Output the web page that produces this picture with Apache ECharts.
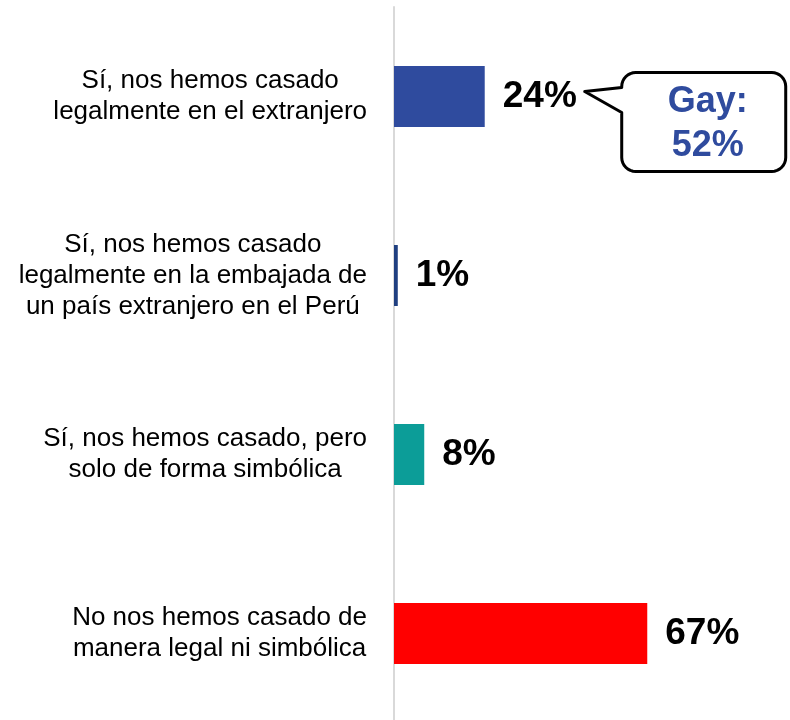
<!DOCTYPE html>
<html>
<head>
<meta charset="utf-8">
<style>
  html, body { margin: 0; padding: 0; background: #ffffff; }
  #chart { width: 790px; height: 720px; }
</style>
<script src="https://cdn.jsdelivr.net/npm/echarts@6/dist/echarts.min.js"></script>
</head>
<body>
<div id="chart"></div>
<script>
// Answer options (top to bottom)
const categories = [
  'Sí, nos hemos casado\nlegalmente en el extranjero',
  'Sí, nos hemos casado\nlegalmente en la embajada de\nun país extranjero en el Perú',
  'Sí, nos hemos casado, pero\nsolo de forma simbólica',
  'No nos hemos casado de\nmanera legal ni simbólica'
];
// Share of respondents, in percent
const values = [24, 1, 8, 67];
const barColors = ['#2F4B9E', '#1F3F80', '#0C9D98', '#FF0000'];

// Callout for the first option
const calloutGroup = 'Gay';
const calloutValue = 52;

const FONT = '"Liberation Sans", Arial, Helvetica, sans-serif';

const chart = echarts.init(document.getElementById('chart'), null, { renderer: 'canvas' });

chart.setOption({
  animation: false,
  backgroundColor: '#ffffff',
  grid: {
    left: 394,
    width: 378,
    top: 7,
    height: 716,
    containLabel: false,
    outerBoundsMode: 'none'
  },
  xAxis: {
    type: 'value',
    min: 0,
    max: 100,
    show: false
  },
  yAxis: {
    type: 'category',
    data: categories,
    inverse: true,
    axisLine: { show: true, lineStyle: { color: '#D9D9D9', width: 2 } },
    axisTick: { show: false },
    splitLine: { show: false },
    axisLabel: {
      margin: 27,
      formatter: function (v) {
        return v.split('\n').map(function (l) { return '{c|' + l + '}'; }).join('\n');
      },
      rich: {
        c: {
          align: 'center',
          fontFamily: FONT,
          fontSize: 26,
          lineHeight: 31,
          color: '#000000'
        }
      }
    }
  },
  series: [{
    type: 'bar',
    data: values.map(function (v, i) {
      return { value: v, itemStyle: { color: barColors[i] } };
    }),
    barWidth: 61,
    label: {
      show: true,
      position: 'right',
      distance: 18,
      formatter: '{c}%',
      fontFamily: FONT,
      fontWeight: 'bold',
      fontSize: 37,
      color: '#000000'
    }
  }]
});

// Speech-bubble callout pointing at the first bar's label
const anchor = chart.convertToPixel({ gridIndex: 0 }, [values[0], 0]);
const tipX = anchor[0] + 100;
const tipY = anchor[1] - 5;
const bx0 = tipX + 37, bx1 = bx0 + 164;
const by0 = tipY - 19, by1 = by0 + 99;
const r = 14;
const jA = tipY - 4, jB = tipY + 21;

// rounded-corner outline as a point list
function corner(cx, cy, a0, a1) {
  const pts = [];
  const n = 8;
  for (let i = 0; i <= n; i++) {
    const a = a0 + (a1 - a0) * i / n;
    pts.push([cx + r * Math.cos(a), cy + r * Math.sin(a)]);
  }
  return pts;
}
const PI = Math.PI;
const outline = [].concat(
  [[bx0, jA], [tipX, tipY], [bx0, jB]],
  corner(bx0 + r, by1 - r, PI, PI / 2),          // bottom-left
  corner(bx1 - r, by1 - r, PI / 2, 0),           // bottom-right
  corner(bx1 - r, by0 + r, 0, -PI / 2),          // top-right
  corner(bx0 + r, by0 + r, -PI / 2, -PI)         // top-left
);

chart.setOption({
  graphic: [
    {
      type: 'polygon',
      z: 10,
      shape: { points: outline },
      style: { fill: '#ffffff', stroke: '#000000', lineWidth: 3, lineJoin: 'round' }
    },
    {
      type: 'text',
      z: 11,
      x: (bx0 + bx1) / 2 + 4,
      y: (by0 + by1) / 2 + 2,
      style: {
        text: calloutGroup + ':\n' + calloutValue + '%',
        fontFamily: FONT,
        fontWeight: 'bold',
        fontSize: 36,
        lineHeight: 44,
        fill: '#2F4B9E',
        align: 'center',
        verticalAlign: 'middle'
      }
    }
  ]
});
</script>
</body>
</html>
